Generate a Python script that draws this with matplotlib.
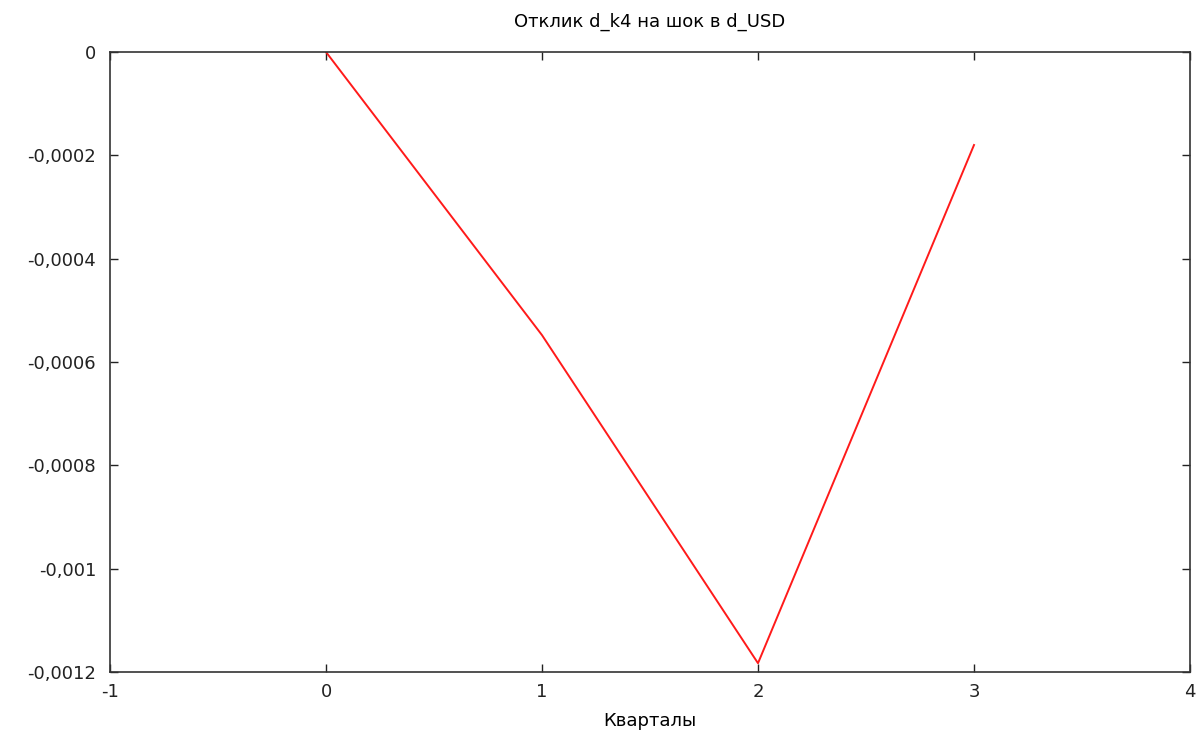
import matplotlib
matplotlib.use("Agg")
import matplotlib.pyplot as plt
from matplotlib.ticker import FuncFormatter

quarters = [0, 1, 2, 3]
response = [0.0, -0.000548, -0.001183, -0.00018]
xticks = [-1, 0, 1, 2, 3, 4]
yticks = [0, -0.0002, -0.0004, -0.0006, -0.0008, -0.001, -0.0012]

plt.rcParams['font.family'] = ['DejaVu Sans']
plt.rcParams['axes.unicode_minus'] = False
fig = plt.figure(figsize=(12.02, 7.31), dpi=100)
ax = fig.add_axes([110/1202, (731-672)/731, (1190-110)/1202, (672-52)/731])
ax.plot(quarters, response, color='#ff1a1a', lw=1.4)
ax.set_xlim(-1, 4)
ax.set_ylim(-0.0012, 0)
ax.set_xticks(xticks)
ax.set_yticks(yticks)

def yfmt(v, pos):
    if abs(v) < 1e-12:
        return "0"
    s = ("%.4f" % v).rstrip('0')
    return s.replace('.', ',')

ax.yaxis.set_major_formatter(FuncFormatter(yfmt))
ax.tick_params(direction='in', length=6, width=1, top=True, right=True,
               labelsize=13, colors='#222222', pad=10)
ax.tick_params(axis='x', pad=8)
for s in ax.spines.values():
    s.set_color('#333333')
    s.set_linewidth(1.2)
ax.set_title("Отклик d_k4 на шок в d_USD", fontsize=13, pad=18)
ax.set_xlabel("Кварталы", fontsize=13, labelpad=8)
fig.savefig("out.png", dpi=100)
